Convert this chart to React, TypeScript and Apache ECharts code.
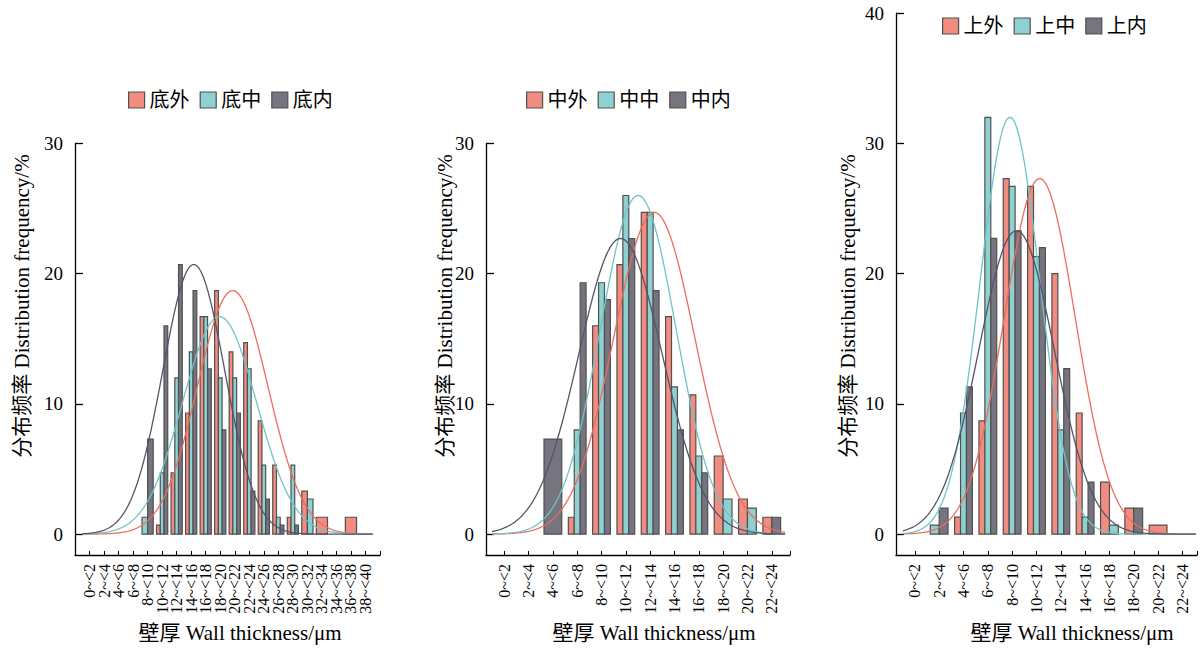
import React, { useEffect, useRef } from "react";
import * as echarts from "echarts";

// ---------- data (percent per bin) ----------
const binLabelsBottom = [
  "0~<2", "2~<4", "4~<6", "6~<8", "8~<10", "10~<12", "12~<14", "14~<16", "16~<18", "18~<20",
  "20~<22", "22~<24", "24~<26", "26~<28", "28~<30", "30~<32", "32~<34", "34~<36", "36~<38", "38~<40",
];
const binLabelsUpper = [
  "0~<2", "2~<4", "4~<6", "6~<8", "8~<10", "10~<12", "12~<14", "14~<16", "16~<18", "18~<20",
  "20~<22", "22~<24",
];

const bottomNames = ["底外", "底中", "底内"];
const bottomOuter = [0, 0, 0, 0, 0, 0.7, 4.7, 9.3, 16.7, 18.7, 14.0, 14.7, 8.7, 5.3, 1.3, 3.3, 1.3, 0, 1.3, 0];
const bottomMiddle = [0, 0, 0, 0, 1.3, 4.7, 12.0, 14.0, 16.7, 12.0, 12.0, 12.7, 5.3, 1.3, 5.3, 2.7, 0, 0, 0, 0];
const bottomInner = [0, 0, 0, 0, 7.3, 16.0, 20.7, 18.7, 12.7, 8.0, 9.3, 3.3, 2.7, 0.7, 0.7, 0, 0, 0, 0, 0];

const midNames = ["中外", "中中", "中内"];
const midOuter = [0, 0, 0, 1.3, 16.0, 20.7, 24.7, 16.7, 10.7, 6.0, 2.7, 1.3];
const midMiddle = [0, 0, 0, 8.0, 19.3, 26.0, 24.7, 11.3, 6.0, 2.7, 2.0, 0];
const midInner = [0, 0, 7.3, 19.3, 18.0, 22.7, 18.7, 8.0, 4.7, 0, 0, 1.3];

const topNames = ["上外", "上中", "上内"];
const topOuter = [0, 0, 1.3, 8.7, 27.3, 26.7, 20.0, 9.3, 4.0, 2.0, 0.7, 0];
const topMiddle = [0, 0.7, 9.3, 32.0, 26.7, 21.3, 8.0, 1.3, 0.7, 0, 0, 0];
const topInner = [0, 2.0, 11.3, 22.7, 23.3, 22.0, 12.7, 4.0, 0, 2.0, 0, 0];

const yTicksLow = [0, 10, 20, 30];
const yTicksHigh = [0, 10, 20, 30, 40];

const yAxisTitle = "分布频率 Distribution frequency/%";
const xAxisTitle = "壁厚 Wall thickness/μm";

// ---------- styles ----------
const FONT = "'Liberation Serif', 'Times New Roman', 'Noto Sans CJK SC', serif";
const fills = ["#F28C80", "#8FD0D0", "#75747F"];
const lineColors = ["#EE6B5E", "#6FC4C5", "#545468"];
const barStroke = "#505050";

type Panel = {
  names: string[];
  series: number[][];
  labels: string[];
  grid: { left: number; top: number; width: number; height: number };
  xMin: number;
  xMax: number;
  yMax: number;
  yTicks: number[];
  groupRatio: number;
  curveFrom: number;
  curveTo: number;
  legend: { left: number; top: number };
  yTitleX: number;
  xTitleX: number;
  splitLabels: boolean;
};

const panels: Panel[] = [
  {
    names: bottomNames,
    series: [bottomOuter, bottomMiddle, bottomInner],
    labels: binLabelsBottom,
    grid: { left: 75, top: 143.4, width: 305, height: 411.6 },
    xMin: -2, xMax: 40, yMax: 30, yTicks: yTicksLow, groupRatio: 0.77,
    curveFrom: -1, curveTo: 39,
    legend: { left: 128, top: 90 },
    yTitleX: 22, xTitleX: 240,
    splitLabels: true,
  },
  {
    names: midNames,
    series: [midOuter, midMiddle, midInner],
    labels: binLabelsUpper,
    grid: { left: 486, top: 143.4, width: 304, height: 411.6 },
    xMin: -1.5, xMax: 23.5, yMax: 30, yTicks: yTicksLow, groupRatio: 0.73,
    curveFrom: -1, curveTo: 23.1,
    legend: { left: 526, top: 90 },
    yTitleX: 445, xTitleX: 654,
    splitLabels: false,
  },
  {
    names: topNames,
    series: [topOuter, topMiddle, topInner],
    labels: binLabelsUpper,
    grid: { left: 896, top: 13.1, width: 301, height: 541.9 },
    xMin: -1.55, xMax: 23.2, yMax: 40, yTicks: yTicksHigh, groupRatio: 0.73,
    curveFrom: -1, curveTo: 23.1,
    legend: { left: 942, top: 16 },
    yTitleX: 848, xTitleX: 1072,
    splitLabels: false,
  },
];

// normal curve fitted to a histogram: mean/sd of the binned data, peak equal to the tallest bar
function fitCurve(values: number[], from: number, to: number) {
  let s = 0, s1 = 0, s2 = 0, peak = 0;
  values.forEach((p, k) => {
    s += p; s1 += k * p; s2 += k * k * p;
    if (p > peak) peak = p;
  });
  const mk = s1 / s;
  const sdk = Math.sqrt(s2 / s - mk * mk);
  const mean = 2 * mk, sd = 2 * sdk;
  const pts: number[][] = [];
  for (let x = from; x <= to + 1e-9; x += 0.1) {
    pts.push([x, peak * Math.exp(-((x - mean) * (x - mean)) / (2 * sd * sd))]);
  }
  return pts;
}

const xLabelStyle = {
  rotate: 90, margin: 9, fontSize: 16, color: "#000", fontFamily: FONT,
  showMinLabel: true, showMaxLabel: true, hideOverlap: false,
};

function buildOption() {
  const grid: any[] = [];
  const xAxis: any[] = [];
  const extraXAxis: any[] = [];
  const yAxis: any[] = [];
  const series: any[] = [];
  const legend: any[] = [];
  const graphic: any[] = [];

  panels.forEach((p, pi) => {
    grid.push({ ...p.grid, containLabel: false });
    const tickVals: number[] = [];
    const mainLabels: number[] = [];
    const altLabels: number[] = [];
    p.labels.forEach((_, k) => {
      tickVals.push(2 * k);
      if (!p.splitLabels || k % 2 === 0) mainLabels.push(2 * k);
      else altLabels.push(2 * k);
    });
    tickVals.push(p.xMax);
    const fmt = (v: number) => p.labels[Math.round(v / 2)] ?? "";
    xAxis.push({
      gridIndex: pi, type: "value", min: p.xMin, max: p.xMax, position: "bottom",
      axisLine: { show: true, onZero: false, lineStyle: { color: "#000", width: 1.3 } },
      axisTick: { show: true, inside: true, length: 4, customValues: tickVals, lineStyle: { color: "#000", width: 1 } },
      axisLabel: { ...xLabelStyle, customValues: mainLabels, formatter: fmt },
      splitLine: { show: false },
    });
    if (altLabels.length) {
      extraXAxis.push({
        gridIndex: pi, type: "value", min: p.xMin, max: p.xMax, position: "bottom", offset: 0,
        axisLine: { show: false, onZero: false },
        axisTick: { show: false },
        axisLabel: { ...xLabelStyle, customValues: altLabels, formatter: fmt },
        splitLine: { show: false },
      });
    }
    yAxis.push({
      gridIndex: pi, type: "value", min: -1.6, max: p.yMax,
      axisLine: { show: true, onZero: false, lineStyle: { color: "#000", width: 1.3 } },
      axisTick: { show: true, inside: true, length: 8, customValues: p.yTicks, lineStyle: { color: "#000", width: 1.3 } },
      axisLabel: { customValues: p.yTicks, margin: 12, fontSize: 19, color: "#000", fontFamily: FONT, showMinLabel: true, showMaxLabel: true },
      splitLine: { show: false },
    });

    p.series.forEach((vals, si) => {
      const data: number[][] = [];
      vals.forEach((v, k) => {
        if (!(v > 0)) return;
        const present = p.series.map((s) => s[k] > 0);
        const count = present.filter(Boolean).length;
        const idx = present.slice(0, si).filter(Boolean).length;
        data.push([2 * k, v, idx, count]);
      });
      const ratio = p.groupRatio;
      series.push({
        type: "custom",
        name: p.names[si],
        xAxisIndex: pi, yAxisIndex: pi,
        dimensions: ["x", "y", "idx", "count"],
        encode: { x: 0, y: 1 },
        itemStyle: { color: fills[si], borderColor: barStroke, borderWidth: 1.2 },
        z: 2,
        renderItem: (_params: any, api: any) => {
          const x = api.value(0), y = api.value(1), idx = api.value(2), count = api.value(3);
          const base = api.coord([x, 0]);
          const top = api.coord([x, y]);
          const groupW = api.size([2, 0])[0] * ratio;
          const w = groupW / count;
          const left = base[0] - groupW / 2 + idx * w;
          return {
            type: "rect",
            shape: { x: left, y: top[1], width: w, height: base[1] - top[1] },
            style: { fill: fills[si], stroke: barStroke, lineWidth: 1.2 },
          };
        },
        data,
      });
    });

    p.series.forEach((vals, si) => {
      series.push({
        type: "line",
        name: p.names[si] + "拟合",
        xAxisIndex: pi, yAxisIndex: pi,
        showSymbol: false, symbol: "none",
        lineStyle: { color: lineColors[si], width: 1.3 },
        itemStyle: { color: lineColors[si] },
        z: 3,
        data: fitCurve(vals, p.curveFrom, p.curveTo),
      });
    });

    legend.push({
      left: p.legend.left, top: p.legend.top, padding: 0,
      itemWidth: 16, itemHeight: 16, itemGap: 10,
      icon: "rect",
      textStyle: { fontSize: 20, color: "#000", fontFamily: FONT },
      data: p.names.map((n, si) => ({
        name: n,
        itemStyle: { color: fills[si], borderColor: barStroke, borderWidth: 1.2 },
      })),
    });

    graphic.push({
      type: "text",
      x: p.yTitleX, y: 306,
      rotation: Math.PI / 2,
      style: { text: yAxisTitle, fontSize: 21, fontFamily: FONT, fill: "#000", align: "center", verticalAlign: "middle" },
    });
    graphic.push({
      type: "text",
      x: p.xTitleX, y: 633,
      style: { text: xAxisTitle, fontSize: 21, fontFamily: FONT, fill: "#000", align: "center", verticalAlign: "middle" },
    });
  });

  return {
    animation: false,
    backgroundColor: "#fff",
    textStyle: { fontFamily: FONT },
    grid, xAxis: [...xAxis, ...extraXAxis], yAxis, series, legend, graphic,
  };
}

export default function App() {
  const ref = useRef<HTMLDivElement>(null);
  useEffect(() => {
    if (!ref.current) return;
    const chart = echarts.init(ref.current, undefined, { renderer: "svg" });
    chart.setOption(buildOption() as any);
    return () => chart.dispose();
  }, []);
  return (
    <div
      ref={ref}
      style={{ position: "fixed", left: 0, top: 0, width: 1202, height: 648, background: "#fff" }}
    />
  );
}
